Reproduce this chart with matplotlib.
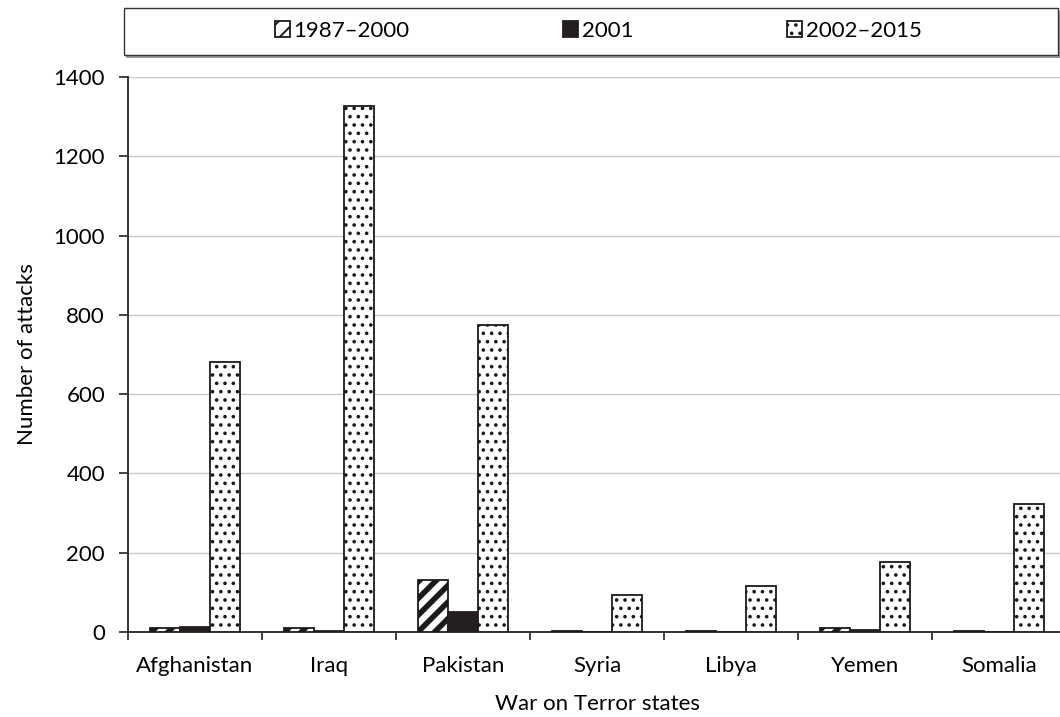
import matplotlib
matplotlib.use("Agg")
import matplotlib.pyplot as plt
from matplotlib.patches import Rectangle
import numpy as np

plt.rcParams['font.family'] = ['Lato', 'DejaVu Sans']
plt.rcParams['hatch.linewidth'] = 1.4

states = ['Afghanistan', 'Iraq', 'Pakistan', 'Syria', 'Libya', 'Yemen', 'Somalia']
series_names = ['1987\u20132000', '2001', '2002\u20132015']
attacks_1987_2000 = [10, 11, 130, 2, 2, 9, 3]
attacks_2001 = [12, 2, 50, 0, 0, 5, 0]
attacks_2002_2015 = [680, 1328, 775, 93, 115, 177, 322]
yticks = [0, 200, 400, 600, 800, 1000, 1200, 1400]

W, H = 1060, 717
fig = plt.figure(figsize=(W / 100, H / 100), dpi=100)
ax = fig.add_axes([128 / W, (H - 632) / H, 938 / W, (632 - 77) / H])

x = np.arange(len(states))
w = 0.224
styles = [
    dict(facecolor='white', hatch='//', edgecolor='#1a1a1a'),
    dict(facecolor='#231f20', edgecolor='#231f20'),
    dict(facecolor='white', hatch='..', edgecolor='#1a1a1a'),
]
data = [attacks_1987_2000, attacks_2001, attacks_2002_2015]
handles = []
for i, (vals, st) in enumerate(zip(data, styles)):
    b = ax.bar(x + (i - 1) * w, vals, width=w, linewidth=1.3, zorder=3,
               label=series_names[i], **st)
    handles.append(b)

# thicker stripes for the diagonal pattern
for p in handles[0].patches:
    p.set_hatch_linewidth(4.0)

ax.set_xlim(-0.5, len(states) - 0.5)
ax.set_ylim(0, 1400)
ax.set_yticks(yticks)
ax.set_xticks(x)
ax.set_xticklabels(states)
ax.set_xticks(np.arange(len(states) + 1) - 0.5, minor=True)
ax.tick_params(axis='x', which='major', length=0, labelsize=16, pad=17)
ax.tick_params(axis='x', which='minor', length=6, width=1.3, color='#333333')
ax.tick_params(axis='y', length=6.5, width=1.3, labelsize=16, pad=10, color='#333333')
ax.grid(axis='y', color='#c8c8c8', linewidth=1, zorder=0)
for s in ['top', 'right']:
    ax.spines[s].set_visible(False)
for s in ['left', 'bottom']:
    ax.spines[s].set_linewidth(1.4)
    ax.spines[s].set_color('#333333')

ax.set_xlabel('War on Terror states', fontsize=16, labelpad=13)
ax.set_ylabel('Number of attacks', fontsize=16, labelpad=12)

# legend box with a small drop shadow
x0, y0, x1, y1 = 124, 8, 1058, 55
fig.patches.append(Rectangle(((x0 + 2) / W, (H - y1 - 3) / H), (x1 - x0) / W, (y1 - y0) / H,
                             transform=fig.transFigure, facecolor='#9a9a9a',
                             edgecolor='none', zorder=0))
fig.patches.append(Rectangle((x0 / W, (H - y1) / H), (x1 - x0) / W, (y1 - y0) / H,
                             transform=fig.transFigure, facecolor='white',
                             edgecolor='#333333', linewidth=1.0, zorder=1))

leg = fig.legend(handles=handles, labels=series_names, loc='center',
                 bbox_to_anchor=(598 / W, (H - 31) / H),
                 ncol=3, fontsize=16, frameon=False, handlelength=0.7,
                 handleheight=0.7, handletextpad=0.15, borderaxespad=0,
                 columnspacing=6.9)

fig.savefig('out.png', dpi=100)
